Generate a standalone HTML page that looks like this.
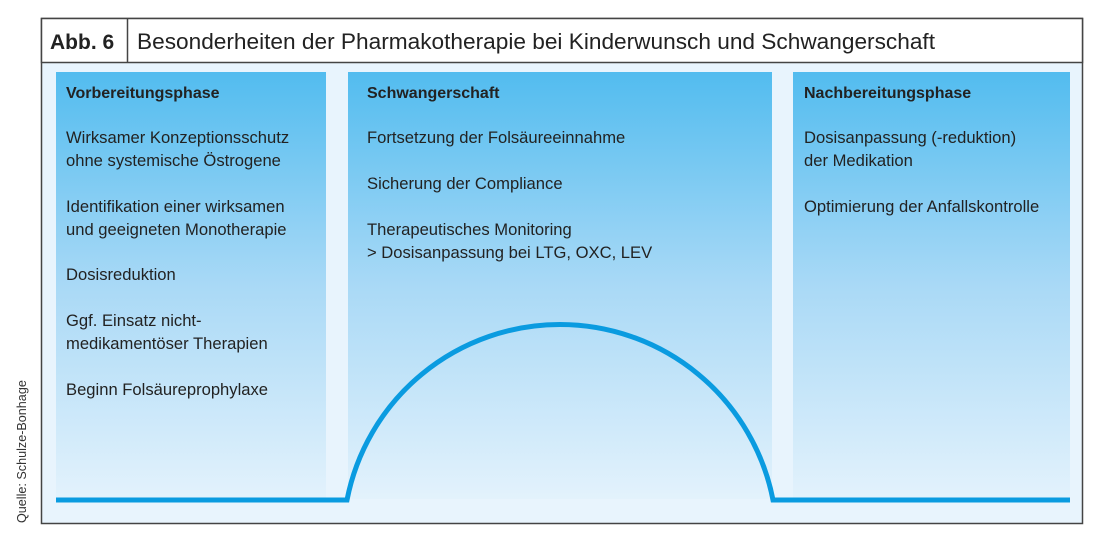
<!DOCTYPE html>
<html><head><meta charset="utf-8"><style>
html,body{margin:0;padding:0;background:#fff;}
svg{display:block;font-family:"Liberation Sans",sans-serif;}
</style></head><body>
<svg width="1100" height="547" viewBox="0 0 1100 547" xmlns="http://www.w3.org/2000/svg">
<defs>
<linearGradient id="g" x1="0" y1="0" x2="0" y2="1">
<stop offset="0" stop-color="#52bcef"/>
<stop offset="0.5" stop-color="#a9d9f6"/>
<stop offset="1" stop-color="#e3f2fc"/>
</linearGradient>
</defs>
<rect x="41.5" y="18.5" width="1041" height="505" fill="#e8f4fd" stroke="#444" stroke-width="1.5"/>
<rect x="41.5" y="18.5" width="1041" height="44" fill="#fff" stroke="#444" stroke-width="1.5"/>
<line x1="127.5" y1="18.5" x2="127.5" y2="62.5" stroke="#444" stroke-width="1.5"/>
<text x="50" y="49" font-size="21" font-weight="bold" fill="#222">Abb. 6</text>
<text x="137" y="49" font-size="22.5" fill="#222" textLength="798" lengthAdjust="spacingAndGlyphs">Besonderheiten der Pharmakotherapie bei Kinderwunsch und Schwangerschaft</text>
<rect x="56" y="72" width="270" height="427" fill="url(#g)"/>
<rect x="348" y="72" width="424" height="427" fill="url(#g)"/>
<rect x="793" y="72" width="277" height="427" fill="url(#g)"/>
<path d="M56 500 H347 A217 217 0 0 1 773 500 H1070" fill="none" stroke="#0a9be0" stroke-width="5"/>
<g font-size="16.6" fill="#222">
<text x="66" y="98" font-weight="bold" font-size="16">Vorbereitungsphase</text>
<text x="66" y="143">Wirksamer Konzeptionsschutz</text>
<text x="66" y="166">ohne systemische Östrogene</text>
<text x="66" y="212">Identifikation einer wirksamen</text>
<text x="66" y="235">und geeigneten Monotherapie</text>
<text x="66" y="280">Dosisreduktion</text>
<text x="66" y="326">Ggf. Einsatz nicht-</text>
<text x="66" y="349">medikamentöser Therapien</text>
<text x="66" y="395">Beginn Folsäureprophylaxe</text>
<text x="367" y="98" font-weight="bold" font-size="16">Schwangerschaft</text>
<text x="367" y="143">Fortsetzung der Folsäureeinnahme</text>
<text x="367" y="189">Sicherung der Compliance</text>
<text x="367" y="235">Therapeutisches Monitoring</text>
<text x="367" y="258">&gt; Dosisanpassung bei LTG, OXC, LEV</text>
<text x="804" y="98" font-weight="bold" font-size="16">Nachbereitungsphase</text>
<text x="804" y="143">Dosisanpassung (-reduktion)</text>
<text x="804" y="166">der Medikation</text>
<text x="804" y="212">Optimierung der Anfallskontrolle</text>
</g>
<text transform="translate(26,523) rotate(-90)" font-size="12.6" fill="#333">Quelle: Schulze-Bonhage</text>
</svg>
</body></html>
